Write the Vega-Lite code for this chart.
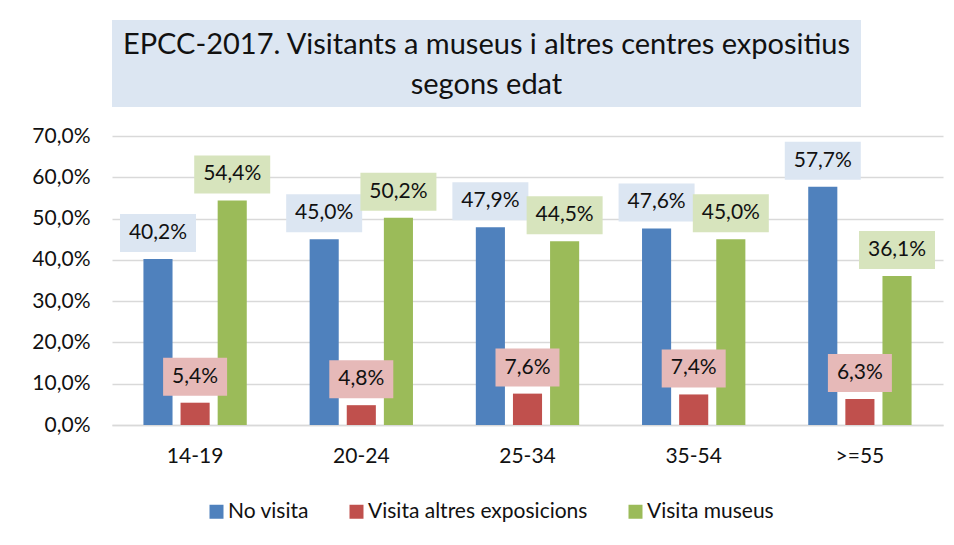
{
  "$schema": "https://vega.github.io/schema/vega-lite/v6.json",
  "background": "white",
  "padding": {"left": 31, "top": 20, "right": 5, "bottom": 5},
  "bounds": "flush",
  "spacing": 29,
  "config": {
    "locale": {"number": {"decimal": ",", "thousands": ".", "grouping": [3], "currency": ["", " €"]}},
    "font": "Lato",
    "view": {"stroke": null}
  },
  "vconcat": [
    {
      "width": 749,
      "height": 87,
      "view": {"fill": "#DCE6F2", "stroke": null},
      "data": {"values": [{"title": ["EPCC-2017. Visitants a museus i altres centres expositius", "segons edat"]}]},
      "mark": {"type": "text", "fontSize": 29, "lineHeight": 40, "baseline": "middle", "align": "center", "color": "#111111", "dy": -19},
      "encoding": {"text": {"field": "title"}}
    },
    {
      "width": 831,
      "height": 289,
      "data": {"values": [
        {"age": "14-19", "series": "No visita", "value": 0.402},
        {"age": "14-19", "series": "Visita altres exposicions", "value": 0.054},
        {"age": "14-19", "series": "Visita museus", "value": 0.544},
        {"age": "20-24", "series": "No visita", "value": 0.450},
        {"age": "20-24", "series": "Visita altres exposicions", "value": 0.048},
        {"age": "20-24", "series": "Visita museus", "value": 0.502},
        {"age": "25-34", "series": "No visita", "value": 0.479},
        {"age": "25-34", "series": "Visita altres exposicions", "value": 0.076},
        {"age": "25-34", "series": "Visita museus", "value": 0.445},
        {"age": "35-54", "series": "No visita", "value": 0.476},
        {"age": "35-54", "series": "Visita altres exposicions", "value": 0.074},
        {"age": "35-54", "series": "Visita museus", "value": 0.450},
        {"age": ">=55", "series": "No visita", "value": 0.577},
        {"age": ">=55", "series": "Visita altres exposicions", "value": 0.063},
        {"age": ">=55", "series": "Visita museus", "value": 0.361}
      ]},
      "encoding": {
        "x": {
          "field": "age", "type": "nominal", "sort": null,
          "scale": {"paddingInner": 0.33, "paddingOuter": 0.165},
          "axis": {"title": null, "labelAngle": 0, "labelFontSize": 21, "labelColor": "#111111", "domainColor": "#D9D9D9", "domainWidth": 1.3, "ticks": false, "labelPadding": 20, "grid": false}
        },
        "xOffset": {
          "field": "series", "type": "nominal", "sort": null,
          "scale": {"domain": ["No visita", "Visita altres exposicions", "Visita museus"], "paddingInner": 0.216, "paddingOuter": 0.108}
        },
        "y": {
          "field": "value", "type": "quantitative",
          "scale": {"domain": [0, 0.7], "nice": false},
          "axis": {"title": null, "values": [0, 0.1, 0.2, 0.3, 0.4, 0.5, 0.6, 0.7], "format": ".1%", "labelFontSize": 21, "labelColor": "#111111", "grid": true, "gridColor": "#D9D9D9", "gridWidth": 1.3, "domain": false, "ticks": false, "labelPadding": 22}
        }
      },
      "layer": [
        {
          "mark": {"type": "bar"},
          "encoding": {
            "color": {
              "field": "series", "type": "nominal", "sort": null,
              "scale": {"domain": ["No visita", "Visita altres exposicions", "Visita museus"], "range": ["#4F81BD", "#C0504D", "#9BBB59"]},
              "legend": {"orient": "none", "legendX": 94, "legendY": 481, "direction": "horizontal", "title": null, "symbolType": "square", "symbolSize": 196, "labelFontSize": 21, "labelColor": "#111111", "labelOffset": 1, "columnPadding": 37, "symbolStrokeWidth": 0, "labelLimit": 400}
            }
          }
        },
        {
          "transform": [{"filter": "datum.series !== 'Visita altres exposicions'"}],
          "mark": {"type": "point", "filled": true, "opacity": 1, "size": 1444, "strokeWidth": 0, "yOffset": -26, "shape": "M-2,-1H2V1H-2Z"},
          "encoding": {
            "fill": {
              "field": "series", "type": "nominal",
              "scale": {"domain": ["No visita", "Visita altres exposicions", "Visita museus"], "range": ["#DCE6F2", "#E6B9B8", "#D7E4BD"]},
              "legend": null
            }
          }
        },
        {
          "transform": [{"filter": "datum.series === 'Visita altres exposicions'"}],
          "mark": {"type": "point", "filled": true, "opacity": 1, "size": 1444, "strokeWidth": 0, "yOffset": -26, "shape": "M-1.684,-1H1.684V1H-1.684Z"},
          "encoding": {
            "fill": {
              "field": "series", "type": "nominal",
              "scale": {"domain": ["No visita", "Visita altres exposicions", "Visita museus"], "range": ["#DCE6F2", "#E6B9B8", "#D7E4BD"]},
              "legend": null
            }
          }
        },
        {
          "mark": {"type": "text", "fontSize": 21, "baseline": "middle", "align": "center", "color": "#111111", "yOffset": -26},
          "encoding": {"text": {"field": "value", "type": "quantitative", "format": ".1%"}}
        }
      ]
    }
  ]
}
